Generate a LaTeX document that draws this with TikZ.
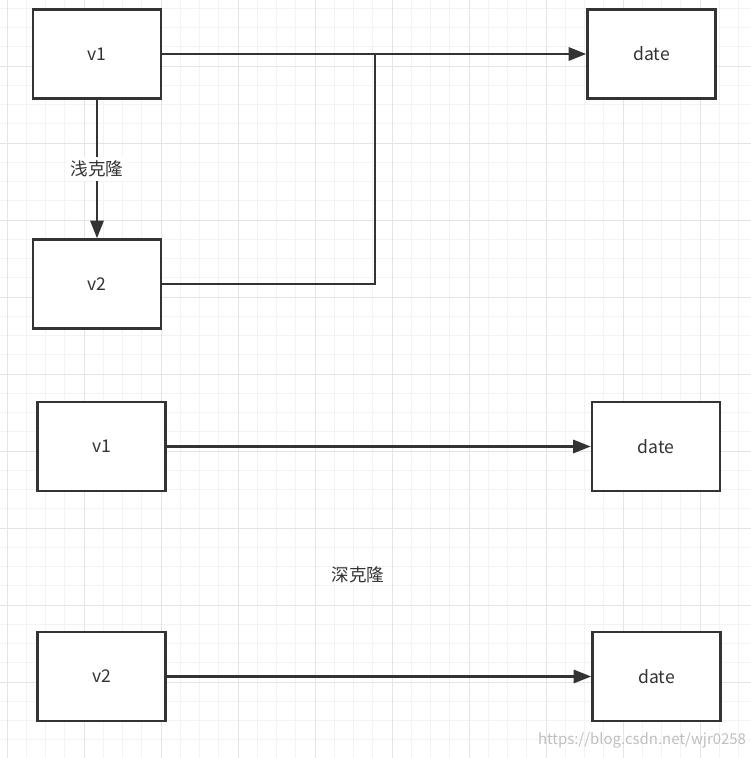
\documentclass[tikz,border=0pt]{standalone}
\usepackage{fontspec}
\setmainfont{Noto Sans CJK SC}
\usetikzlibrary{arrows.meta}
\definecolor{inkgray}{HTML}{333333}
\definecolor{gridminor}{HTML}{F3F3F3}
\definecolor{gridmajor}{HTML}{E4E4E4}
\begin{document}
\begin{tikzpicture}[x=0.02cm, y=-0.02cm, line join=miter, font=\fontsize{10}{12}\selectfont, >={Triangle[length=10pt,width=7.5pt]}]
			\tikzset{box/.style={draw=inkgray, line width=1.4pt, fill=white, text=inkgray, minimum width=2.56cm, minimum height=1.78cm, inner sep=0pt},
				link/.style={draw=inkgray, line width=1.4pt},
				tag/.style={fill=white, text=inkgray, inner sep=2pt}}
			\useasboundingbox (0,0) rectangle (751,758);
			\fill[white] (0,0) rectangle (751,758);
			% grid
			\foreach \k in {0,...,38} {
				\draw[gridminor] ({7+19.25*\k},0) -- +(0,758);
				\draw[gridminor] (0,{8.25+19.25*\k}) -- +(751,0);
			}
			\foreach \k in {0,...,9} {
				\draw[gridmajor] ({7+77*\k},0) -- +(0,758);
				\draw[gridmajor] (0,{-11+77*(\k+1)}) -- +(751,0);
			}
			% shallow copy
			\node[box] (v1a) at (97,54) {v1};
			\node[box] (v2a) at (97,284) {v2};
			\node[box] (datea) at (651.5,54) {date};
			\coordinate (bend) at (375,54);
			\draw[link,->] (v1a) -- (datea);
			\draw[link] (v2a.east) -| (bend);
			\draw[link,->] (v1a) -- (v2a) node[tag, midway] {浅克隆};
			% deep copy
			\node[box] (v1b) at (101.5,446.5) {v1};
			\node[box] (dateb) at (656,446.5) {date};
			\node[box] (v2b) at (101.5,676.5) {v2};
			\node[box] (datec) at (656.5,676.5) {date};
			\node[text=inkgray] (deep) at (358,575) {深克隆};
			\draw[link,->] (v1b) -- (dateb);
			\draw[link,->] (v2b) -- (datec);
			\node[text=black!25, font=\fontsize{8.5}{10}\selectfont] (mark) at (642,740) {https://blog.csdn.net/wjr0258};
		\end{tikzpicture}
\end{document}
